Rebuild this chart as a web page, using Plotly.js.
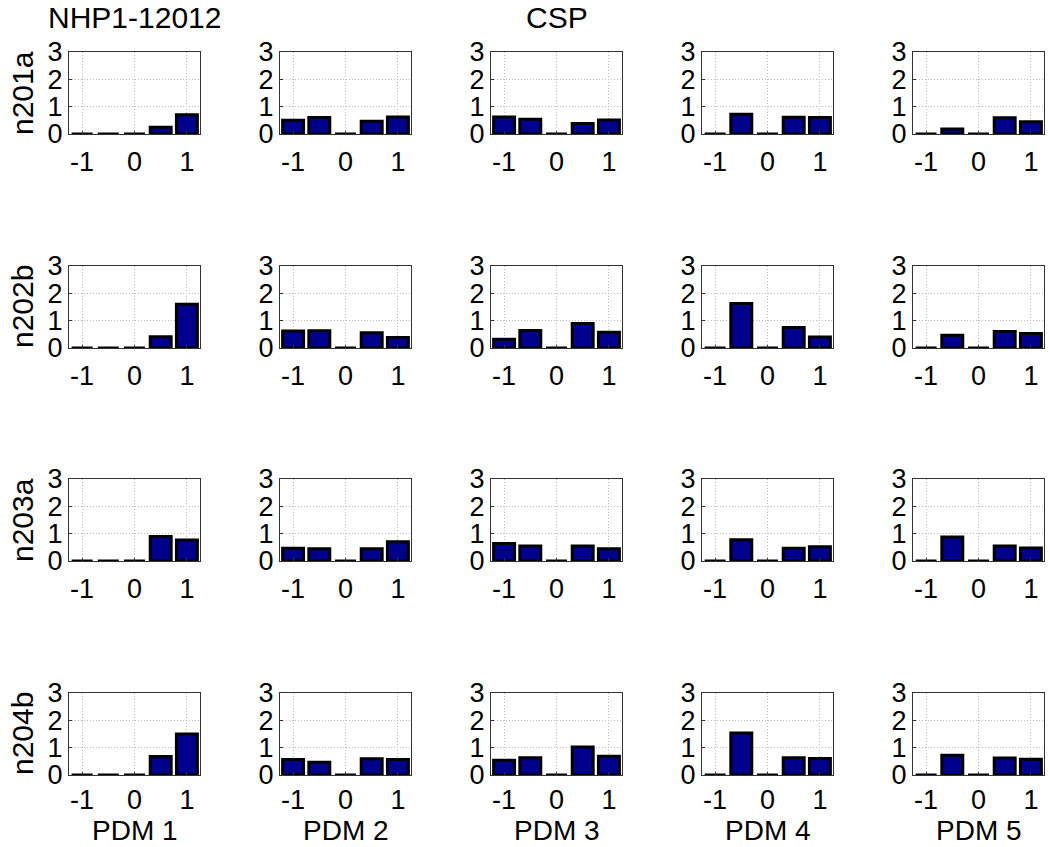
<!DOCTYPE html>
<html><head><meta charset="utf-8">
<script src="https://cdn.plot.ly/plotly-3.0.1.min.js"></script>
<style>html,body{margin:0;padding:0;background:#fff}</style>
</head><body><div id="chart" style="width:1050px;height:847px"></div>
<script>
// ---- data ----
const positions = [-1, -0.5, 0, 0.5, 1];
const rowLabels = ['n201a', 'n202b', 'n203a', 'n204b'];
const colLabels = ['PDM 1', 'PDM 2', 'PDM 3', 'PDM 4', 'PDM 5'];
const colTitles = ['NHP1-12012', '', 'CSP', '', ''];
const xTickVals = [-1, 0, 1];
const xTickText = ['-1', '0', '1'];
const yTickVals = [0, 1, 2, 3];
const yTickText = ['0', '1', '2', '3'];
// each row: 5 panels (PDM 1..5), each 5 bar heights at positions
const n201a = [[0, 0, 0, 0.25, 0.70], [0.50, 0.60, 0, 0.47, 0.62], [0.62, 0.54, 0, 0.38, 0.51], [0, 0.72, 0, 0.61, 0.60], [0, 0.18, 0, 0.59, 0.45]];
const n202b = [[0, 0, 0, 0.41, 1.60], [0.62, 0.63, 0, 0.56, 0.38], [0.32, 0.64, 0, 0.90, 0.58], [0, 1.63, 0, 0.75, 0.40], [0, 0.47, 0, 0.60, 0.53]];
const n203a = [[0, 0, 0, 0.90, 0.77], [0.47, 0.45, 0, 0.45, 0.70], [0.64, 0.55, 0, 0.55, 0.45], [0, 0.78, 0, 0.47, 0.52], [0, 0.88, 0, 0.55, 0.48]];
const n204b = [[0, 0, 0, 0.68, 1.50], [0.57, 0.47, 0, 0.59, 0.57], [0.54, 0.63, 0, 1.02, 0.69], [0, 1.54, 0, 0.63, 0.60], [0, 0.72, 0, 0.62, 0.58]];
const rows = [n201a, n202b, n203a, n204b];

// ---- layout geometry (pixels) ----
const W = 1050, H = 847;
const colLeft = [69, 280, 491, 702, 913], colW = 131;
const rowTop = [52, 266, 479, 693], rowH = 82;
const FONT = 'Liberation Sans, Arial, sans-serif';
const tickFont = {family: FONT, size: 27, color: '#000'};
const labFont = {family: FONT, size: 30, color: '#000'};
const pdmFont = {family: FONT, size: 28, color: '#000'};

const data = [];
const layout = {
  width: W, height: H, margin: {l: 0, r: 0, t: 0, b: 0},
  paper_bgcolor: '#fff', plot_bgcolor: '#fff', showlegend: false,
  bargap: 0, annotations: []
};

rows.forEach((row, r) => {
  row.forEach((vals, c) => {
    const idx = r * 5 + c + 1;
    const sfx = idx === 1 ? '' : String(idx);
    data.push({
      type: 'bar', x: positions, y: vals, width: 0.4,
      xaxis: 'x' + sfx, yaxis: 'y' + sfx,
      marker: {color: '#00008c', line: {color: '#000', width: 3}},
      hoverinfo: 'x+y'
    });
    const common = {
      showline: true, mirror: true, linecolor: '#333', linewidth: 1,
      showgrid: true, gridcolor: '#bdbdbd', griddash: '1px,2px', gridwidth: 1,
      zeroline: false, ticks: 'inside', ticklen: 3, tickcolor: '#333',
      tickfont: tickFont, fixedrange: true
    };
    layout['xaxis' + sfx] = Object.assign({}, common, {
      domain: [colLeft[c] / W, (colLeft[c] + colW) / W],
      anchor: 'y' + sfx, ticklabelstandoff: r === 3 ? 1 : 4,
      range: [-1.25, 1.25], tickvals: xTickVals, ticktext: xTickText
    });
    layout['yaxis' + sfx] = Object.assign({}, common, {
      domain: [1 - (rowTop[r] + rowH) / H, 1 - rowTop[r] / H],
      anchor: 'x' + sfx,
      range: [0, 3], tickvals: yTickVals, ticktext: yTickText
    });
  });
  layout.annotations.push({
    text: rowLabels[r], xref: 'paper', yref: 'paper', showarrow: false,
    x: 22 / W, y: 1 - (rowTop[r] + rowH / 2) / H, textangle: -90,
    xanchor: 'center', yanchor: 'middle', font: labFont
  });
});

colTitles.forEach((t, c) => {
  if (!t) return;
  layout.annotations.push({
    text: t, xref: 'paper', yref: 'paper', showarrow: false,
    x: (colLeft[c] + colW / 2) / W, y: 1 - 18 / H,
    xanchor: 'center', yanchor: 'middle', font: labFont
  });
});
colLabels.forEach((t, c) => {
  layout.annotations.push({
    text: t, xref: 'paper', yref: 'paper', showarrow: false,
    x: (colLeft[c] + colW / 2) / W, y: 0, borderpad: 0,
    xanchor: 'center', yanchor: 'bottom', font: pdmFont
  });
});

Plotly.newPlot('chart', data, layout, {displayModeBar: false, staticPlot: true});
</script></body></html>
